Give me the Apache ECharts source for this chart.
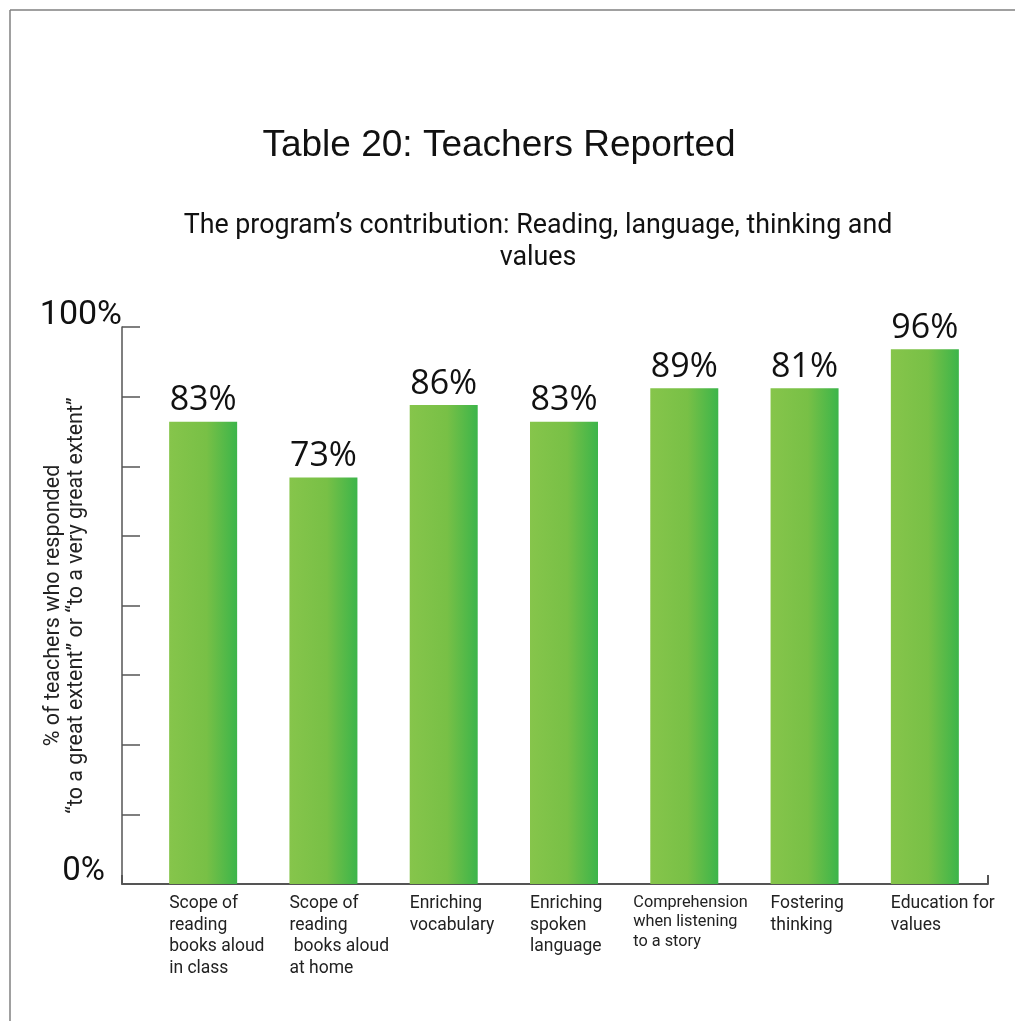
<!DOCTYPE html>
<html>
<head>
<meta charset="utf-8">
<script src="https://cdn.jsdelivr.net/npm/echarts@6/dist/echarts.min.js"></script>
<style>
html,body{margin:0;padding:0;background:#fff;}
#chart{width:1015px;height:1021px;}
</style>
</head>
<body>
<div id="chart"></div>
<script>
const categories = [
  "Scope of\nreading\nbooks aloud\nin class",
  "Scope of\nreading\n books aloud\nat home",
  "Enriching\nvocabulary",
  "Enriching\nspoken\nlanguage",
  "Comprehension\nwhen listening\nto a story",
  "Fostering\nthinking",
  "Education for\nvalues"
];
// bar heights as drawn in the picture
const barValues = [83, 73, 86, 83, 89, 89, 96];
// value labels as printed above the bars
const valueLabels = ["83%", "73%", "86%", "83%", "89%", "81%", "96%"];
const yTickLabels = {0: "0%", 100: "100%"};

const chart = echarts.init(document.getElementById('chart'));
const axisColor = '#555';

chart.setOption({
  backgroundColor: '#fff',
  animation: false,
  title: [
    {
      text: 'Table 20: Teachers Reported',
      left: 494, top: 122, textAlign: 'center',
      textStyle: {fontFamily: 'Liberation Sans', fontSize: 37, fontWeight: 'normal', color: '#111'}
    },
    {
      text: 'The program\u2019s contribution: Reading, language, thinking and\nvalues',
      left: 533, top: 205, textAlign: 'center',
      textStyle: {fontFamily: 'Roboto', fontSize: 26.8, lineHeight: 32, fontWeight: 'normal', color: '#111'}
    }
  ],
  graphic: [
    {type: 'line', shape: {x1: 10, y1: 10, x2: 1015, y2: 10}, style: {stroke: '#808080', lineWidth: 1.5}, silent: true},
    {type: 'line', shape: {x1: 10, y1: 10, x2: 10, y2: 1021}, style: {stroke: '#808080', lineWidth: 1.5}, silent: true}
  ],
  grid: [
    {left: 143, right: 30, top: 327, bottom: 137, outerBoundsMode: 'none', containLabel: false},
    {left: 122, right: 27, top: 327, bottom: 137, outerBoundsMode: 'none', containLabel: false}
  ],
  xAxis: [
    {
      type: 'category', gridIndex: 0, data: categories,
      axisLine: {show: false}, axisTick: {show: false},
      axisLabel: {
        interval: 0, margin: 9, align: 'center',
        formatter: function (v) {
          const key = v.indexOf('Comprehension') === 0 ? 'c' : 'a';
          return v.split('\n').map(function (s) { return '{' + key + '|' + s + '}'; }).join('\n');
        },
        rich: {
          a: {width: 68, align: 'left', fontFamily: 'Roboto', fontSize: 17.5, lineHeight: 21.5, color: '#222'},
          c: {width: 102, align: 'left', fontFamily: 'Roboto', fontSize: 16.3, lineHeight: 19.5, color: '#222'}
        }
      }
    },
    {
      type: 'value', gridIndex: 1, min: 0, max: 1, interval: 1,
      axisLine: {show: true, lineStyle: {color: axisColor, width: 2}},
      axisTick: {show: true, inside: true, length: 9, lineStyle: {color: axisColor, width: 2}},
      axisLabel: {show: false}, splitLine: {show: false}
    }
  ],
  yAxis: [
    {type: 'value', gridIndex: 0, min: 0, max: 100, show: false},
    {
      type: 'value', gridIndex: 1, min: 0, max: 100, interval: 12.5,
      name: '% of teachers who responded\n\u201Cto a great extent\u201D or \u201Cto a very great extent\u201D',
      nameLocation: 'middle', nameRotate: 90, nameGap: 34, nameMoveOverlap: false,
      nameTextStyle: {fontFamily: 'Roboto', fontSize: 21.5, lineHeight: 23, color: '#222'},
      axisLine: {show: true, lineStyle: {color: axisColor, width: 1.5}},
      axisTick: {show: true, inside: true, length: 18, lineStyle: {color: axisColor, width: 1.5}},
      splitLine: {show: false},
      axisLabel: {
        margin: 0, verticalAlign: 'bottom', showMinLabel: true, showMaxLabel: true,
        formatter: function (v) {
          if (v === 100) return '{a|' + yTickLabels[100] + '}';
          if (v === 0) return '{b|' + yTickLabels[0] + '}';
          return '';
        },
        rich: {
          a: {fontFamily: 'Roboto', fontSize: 34, lineHeight: 24, color: '#111'},
          b: {fontFamily: 'Roboto', fontSize: 33, lineHeight: 24, color: '#111', padding: [0, 17, 0, 0]}
        }
      }
    }
  ],
  series: [
    {
      type: 'bar', xAxisIndex: 0, yAxisIndex: 0, data: barValues, barWidth: 68,
      itemStyle: {
        color: new echarts.graphic.LinearGradient(0, 0, 1, 0, [
          {offset: 0, color: '#86C54B'},
          {offset: 0.55, color: '#78C046'},
          {offset: 1, color: '#3CB54A'}
        ])
      },
      label: {
        show: true, position: 'top', distance: 4,
        formatter: function (p) { return valueLabels[p.dataIndex]; },
        fontFamily: 'Open Sans', fontSize: 34, color: '#111'
      }
    }
  ]
});
</script>
</body>
</html>
